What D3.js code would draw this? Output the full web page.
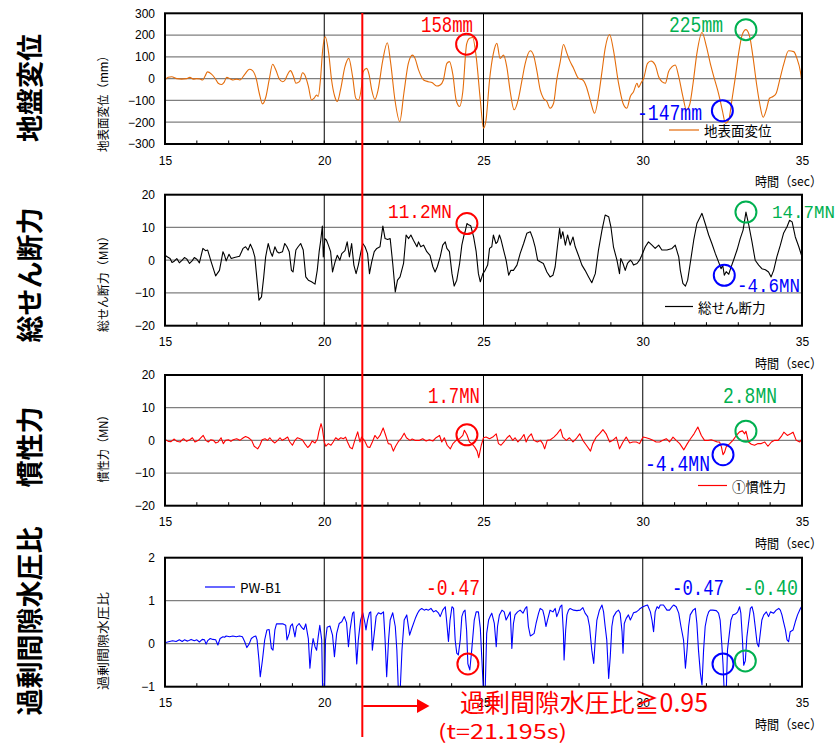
<!DOCTYPE html>
<html>
<head>
<meta charset="utf-8">
<script src="https://cdn.jsdelivr.net/npm/d3@7"></script>
<style>
  html, body { margin: 0; padding: 0; background: #fff; }
  svg { display: block; }
</style>
</head>
<body>
<svg id="chart" width="839" height="747"></svg>
<script>
// ---------- axis ticks ----------
const timeTicks  = [15, 20, 25, 30, 35];
const dispTicks  = [-300, -200, -100, 0, 100, 200, 300];
const shearTicks = [-20, -10, 0, 10, 20];
const inertTicks = [-20, -10, 0, 10, 20];
const ratioTicks = [-1, 0, 1, 2];

// ---------- time histories [time (s), value] ----------
// ground surface displacement (mm)
const groundDisp = [[15.00,-6],[15.10,6],[15.21,9],[15.37,0],[15.52,-2],[15.68,0],[15.78,6],[15.89,-2],[15.99,0],[16.10,-2],[16.18,-6],[16.26,12],[16.33,31],[16.46,21],[16.57,2],[16.67,-21],[16.78,-27],[16.85,-18],[16.94,6],[17.04,0],[17.14,-6],[17.25,-2],[17.35,-6],[17.51,21],[17.65,43],[17.75,37],[17.86,2],[17.96,-67],[18.06,-116],[18.17,-82],[18.27,-6],[18.38,66],[18.48,40],[18.59,-2],[18.69,-14],[18.77,-6],[18.84,17],[18.94,37],[19.03,12],[19.11,-21],[19.22,-14],[19.32,27],[19.39,17],[19.50,-34],[19.60,-98],[19.68,-90],[19.76,-75],[19.81,-82],[19.88,-6],[19.95,131],[20.03,192],[20.14,116],[20.23,-6],[20.33,-82],[20.41,-105],[20.51,-52],[20.65,55],[20.77,93],[20.89,9],[20.99,-90],[21.07,-98],[21.17,-37],[21.22,32],[21.33,47],[21.41,17],[21.49,-52],[21.59,-95],[21.69,-52],[21.83,78],[21.98,165],[22.08,78],[22.22,-98],[22.37,-197],[22.50,-67],[22.64,70],[22.77,108],[22.85,93],[22.96,40],[23.12,-6],[23.27,-14],[23.38,-18],[23.53,-34],[23.64,-29],[23.74,-6],[23.85,70],[23.93,78],[24.04,17],[24.14,-98],[24.25,-128],[24.35,-60],[24.47,158],[24.56,185],[24.66,189],[24.77,101],[24.90,-98],[25.00,-227],[25.08,-189],[25.19,-6],[25.31,116],[25.42,162],[25.52,93],[25.63,108],[25.73,55],[25.84,-60],[25.96,-143],[26.10,-90],[26.20,-14],[26.31,70],[26.47,128],[26.57,108],[26.68,32],[26.78,-52],[26.88,-90],[26.99,-105],[27.09,-136],[27.20,-113],[27.30,-6],[27.41,78],[27.51,157],[27.62,116],[27.70,85],[27.83,47],[27.98,2],[28.12,-6],[28.23,-37],[28.35,-98],[28.49,-159],[28.61,-82],[28.72,32],[28.82,139],[28.96,203],[29.08,131],[29.24,-21],[29.38,-113],[29.50,-136],[29.61,-82],[29.71,-60],[29.82,-21],[29.87,-40],[29.94,-21],[30.03,2],[30.15,70],[30.26,81],[30.39,63],[30.50,9],[30.60,-14],[30.71,-21],[30.81,32],[30.92,55],[31.02,63],[31.13,9],[31.26,-82],[31.37,-143],[31.47,-121],[31.58,-21],[31.70,116],[31.86,212],[32.00,147],[32.12,70],[32.23,9],[32.35,-52],[32.43,-100],[32.50,-147],[32.60,-205],[32.70,-189],[32.80,-98],[32.91,9],[33.01,116],[33.12,200],[33.24,225],[33.36,192],[33.46,101],[33.57,-21],[33.67,-113],[33.78,-177],[33.88,-143],[33.98,-90],[34.09,-82],[34.19,-67],[34.30,-6],[34.42,63],[34.58,128],[34.74,124],[34.84,93],[34.95,32],[35.00,-20]];

// total shear force (MN)
const totalShear = [[15.00,1.5],[15.08,1.0],[15.16,0.5],[15.22,-0.7],[15.29,-0.3],[15.37,0.5],[15.45,-0.8],[15.54,0],[15.61,0.8],[15.68,0.4],[15.77,-1.0],[15.85,-0.2],[15.92,0.8],[16.00,0.3],[16.08,-0.8],[16.19,3.6],[16.27,2.9],[16.34,3.1],[16.45,-0.5],[16.59,-4.8],[16.71,-3.1],[16.82,2.6],[16.87,1.5],[16.92,-0.2],[17.01,1.8],[17.08,0.5],[17.18,0.8],[17.34,1.2],[17.45,3.6],[17.53,4.1],[17.61,3.1],[17.68,4.9],[17.76,3.1],[17.82,1.0],[17.89,-6.1],[17.95,-12.2],[18.03,-11.2],[18.10,-5.1],[18.16,1.0],[18.24,5.1],[18.31,2.6],[18.37,1.2],[18.45,4.1],[18.52,2.6],[18.58,2.2],[18.69,2.6],[18.76,5.1],[18.83,4.1],[18.90,2.6],[18.97,-3.1],[19.02,-3.6],[19.11,3.1],[19.18,4.1],[19.26,5.1],[19.34,3.1],[19.42,-5.1],[19.50,-6.1],[19.60,-6.6],[19.71,-7.3],[19.78,-3.1],[19.84,2.6],[19.89,6.1],[19.94,10.4],[19.97,1.0],[20.02,6.6],[20.07,6.1],[20.13,4.6],[20.20,2.6],[20.26,-3.6],[20.34,-0.5],[20.41,1.5],[20.49,0],[20.55,2.0],[20.65,2.9],[20.72,5.6],[20.79,1.0],[20.86,5.1],[20.93,-1.5],[21.00,-4.1],[21.07,-1.5],[21.14,2.0],[21.21,5.1],[21.28,4.1],[21.36,2.0],[21.42,-4.1],[21.49,-0.5],[21.57,2.6],[21.65,3.6],[21.75,4.1],[21.84,10.4],[21.91,6.6],[21.99,6.3],[22.07,6.6],[22.15,-1.0],[22.23,-9.7],[22.30,-6.1],[22.38,-5.1],[22.49,-1.0],[22.57,7.7],[22.65,6.6],[22.72,7.7],[22.80,6.1],[22.91,4.1],[22.96,5.6],[23.03,4.1],[23.12,4.6],[23.22,2.6],[23.32,1.5],[23.41,-2.0],[23.48,-3.6],[23.55,-2.0],[23.64,1.0],[23.72,4.6],[23.80,5.6],[23.85,3.6],[23.93,2.6],[24.01,-4.1],[24.08,-7.9],[24.16,-6.1],[24.25,-1.0],[24.32,4.6],[24.39,7.7],[24.43,9.0],[24.48,11.2],[24.53,10.8],[24.60,10.5],[24.69,7.1],[24.77,2.6],[24.84,-4.1],[24.90,-6.6],[24.98,-4.1],[25.05,-3.1],[25.13,-1.5],[25.19,3.6],[25.26,4.1],[25.31,7.7],[25.39,5.1],[25.44,5.6],[25.50,7.7],[25.55,6.3],[25.63,3.1],[25.71,0],[25.79,-4.6],[25.86,-3.1],[25.94,-3.1],[26.05,-1.5],[26.15,2.0],[26.26,5.1],[26.36,8.2],[26.47,8.7],[26.55,6.6],[26.62,4.1],[26.70,0],[26.78,-0.5],[26.88,-1.0],[26.99,-3.6],[27.09,-5.1],[27.18,-4.6],[27.25,-2.0],[27.32,4.1],[27.39,9.7],[27.43,6.6],[27.49,8.7],[27.57,4.6],[27.64,7.7],[27.72,4.6],[27.81,7.1],[27.88,4.1],[27.98,1.5],[28.09,-1.5],[28.19,-3.1],[28.30,-5.1],[28.40,-6.9],[28.51,-4.1],[28.61,3.1],[28.72,9.2],[28.82,13.8],[28.93,13.3],[29.00,10.2],[29.08,4.1],[29.19,0],[29.27,-4.1],[29.31,0.5],[29.38,-1.0],[29.45,-3.1],[29.52,-1.0],[29.61,0],[29.66,-0.5],[29.71,-1.5],[29.82,-1.0],[29.90,0],[29.97,1.5],[30.08,4.1],[30.18,5.6],[30.29,4.6],[30.39,3.6],[30.50,4.6],[30.60,3.1],[30.76,3.1],[30.92,3.6],[31.02,4.6],[31.13,1.0],[31.18,-3.1],[31.26,-7.1],[31.34,-7.9],[31.41,-6.1],[31.49,-1.0],[31.60,6.1],[31.70,11.2],[31.86,14.3],[31.96,11.2],[32.07,7.7],[32.17,5.1],[32.28,2.0],[32.38,-0.5],[32.46,-2.6],[32.51,-1.5],[32.56,-4.6],[32.62,-3.5],[32.70,-4.3],[32.77,-2.2],[32.85,0],[32.96,3.1],[33.06,6.6],[33.15,9.2],[33.24,14.7],[33.32,11.2],[33.43,5.6],[33.53,0],[33.64,-1.5],[33.74,-2.6],[33.85,-2.9],[33.95,-3.6],[34.03,-5.1],[34.11,-3.1],[34.21,1.0],[34.32,4.6],[34.42,8.2],[34.53,10.2],[34.61,12.2],[34.69,11.7],[34.79,7.1],[34.90,4.1],[35.00,1.0]];

// inertial force (MN)
const inertiaForce = [[15.00,0.3],[15.10,-0.3],[15.19,-0.4],[15.29,0.4],[15.37,-0.3],[15.47,-0.5],[15.58,0.5],[15.68,-0.3],[15.78,0.2],[15.86,0.8],[15.94,-0.5],[16.05,0],[16.13,0.8],[16.20,1.5],[16.28,0],[16.36,-0.5],[16.44,0.2],[16.52,0],[16.59,-0.8],[16.67,-0.5],[16.76,0.8],[16.83,-1.0],[16.90,0],[16.99,0.2],[17.07,-0.3],[17.14,0.2],[17.25,0.5],[17.35,0],[17.46,0.8],[17.53,1.2],[17.62,0.8],[17.72,0],[17.80,-1.8],[17.91,-2.6],[17.98,-1.5],[18.05,0.2],[18.14,0.5],[18.22,0],[18.29,0.8],[18.37,-0.2],[18.45,-0.8],[18.54,0],[18.61,0.8],[18.68,0],[18.77,0.5],[18.85,1.0],[18.92,-0.5],[19.00,-1.5],[19.08,0],[19.16,0.8],[19.24,0.5],[19.31,0.2],[19.39,-1.0],[19.48,-2.2],[19.55,-1.5],[19.62,-0.2],[19.71,-0.8],[19.79,0.5],[19.83,2.6],[19.90,5.1],[19.94,3.6],[20.00,-0.5],[20.05,-1.8],[20.13,-1.0],[20.21,-1.5],[20.28,-0.5],[20.36,0.8],[20.44,0.2],[20.52,0.8],[20.60,0.5],[20.67,1.0],[20.73,-0.5],[20.81,-2.2],[20.88,-2.6],[20.96,0],[21.05,2.6],[21.12,-0.5],[21.17,1.0],[21.26,0],[21.36,-2.0],[21.43,-2.2],[21.51,-0.5],[21.59,1.5],[21.67,0.5],[21.75,1.5],[21.85,3.8],[21.92,1.8],[22.01,-1.0],[22.09,-1.2],[22.17,-3.3],[22.24,-1.8],[22.32,-0.5],[22.41,0.5],[22.51,2.2],[22.58,0.8],[22.69,0],[22.76,0.4],[22.85,0],[22.99,0],[23.09,0.5],[23.20,-0.2],[23.30,0.2],[23.41,-0.2],[23.51,0.8],[23.62,1.5],[23.69,-0.5],[23.77,0.8],[23.86,-1.5],[23.96,-2.6],[24.04,-1.0],[24.14,0],[24.25,0.5],[24.35,1.5],[24.40,3.1],[24.48,1.7],[24.56,-0.5],[24.63,-1.0],[24.72,-2.0],[24.80,-3.3],[24.85,-5.3],[24.93,-1.5],[25.00,0.8],[25.08,1.0],[25.19,0.5],[25.29,1.0],[25.40,2.0],[25.47,-1.0],[25.55,-1.5],[25.64,-0.5],[25.74,0.8],[25.82,1.5],[25.92,0],[25.99,0.8],[26.08,-0.5],[26.18,0.5],[26.27,1.8],[26.34,-0.5],[26.41,1.0],[26.50,2.0],[26.58,0],[26.69,-0.5],[26.79,0],[26.86,-1.0],[26.92,-2.6],[27.00,0],[27.10,0.2],[27.21,1.0],[27.31,2.0],[27.42,3.4],[27.49,1.0],[27.60,0],[27.70,0.8],[27.81,-0.5],[27.91,0.5],[28.02,2.0],[28.12,0],[28.23,-1.5],[28.36,-3.3],[28.43,-1.0],[28.54,1.0],[28.64,2.0],[28.75,3.3],[28.85,2.0],[28.96,-0.5],[29.06,0],[29.17,1.0],[29.27,-2.6],[29.38,-0.5],[29.48,1.0],[29.59,-0.8],[29.69,-0.5],[29.80,-0.5],[29.90,-1.0],[30.01,1.0],[30.11,0.8],[30.21,0.5],[30.32,0],[30.42,-0.5],[30.53,-0.5],[30.63,0],[30.74,0.5],[30.84,-0.5],[30.95,1.0],[31.05,0],[31.16,-1.0],[31.29,-2.9],[31.40,-1.0],[31.50,0.5],[31.61,2.0],[31.73,4.1],[31.84,1.5],[31.94,0],[32.05,0],[32.15,0.2],[32.26,-0.2],[32.34,-0.5],[32.41,-0.5],[32.47,-2.0],[32.52,-4.4],[32.57,-3.6],[32.62,-2.0],[32.73,-1.0],[32.83,0],[32.94,1.5],[33.04,2.6],[33.13,2.9],[33.20,2.0],[33.24,2.8],[33.32,-0.5],[33.41,-1.2],[33.51,-1.5],[33.62,-1.0],[33.72,-1.0],[33.83,-0.5],[33.93,-1.8],[34.04,-0.5],[34.14,0],[34.25,0],[34.35,1.2],[34.43,2.5],[34.54,1.5],[34.64,2.0],[34.72,2.5],[34.82,0],[34.93,-0.5],[35.00,0.5]];

// excess pore water pressure ratio, PW-B1 (spikes below -1 run off the axis)
const poreRatio = [[15.00,0.02],[15.14,0.05],[15.24,0.07],[15.35,0.05],[15.45,0.09],[15.54,0.05],[15.61,0.09],[15.71,0.06],[15.82,0.10],[15.92,0.07],[16.00,0.09],[16.08,0.04],[16.17,0.10],[16.24,0.09],[16.29,-0.01],[16.34,0.07],[16.42,0.12],[16.50,0.10],[16.59,0.09],[16.66,-0.03],[16.73,0.12],[16.82,0.16],[16.87,0.15],[16.92,0.18],[17.03,0.16],[17.13,0.18],[17.24,0.16],[17.34,0.18],[17.43,0.16],[17.50,0.05],[17.57,-0.09],[17.64,-0.01],[17.71,0.12],[17.78,0.16],[17.85,0.18],[17.89,0.09],[17.95,-0.38],[17.99,-0.77],[18.06,-0.38],[18.13,0.09],[18.20,0.32],[18.27,0.33],[18.34,-0.11],[18.39,-0.15],[18.45,0.32],[18.50,0.46],[18.60,0.46],[18.71,0.46],[18.79,0.43],[18.83,0.09],[18.90,0.24],[18.94,0.41],[19.00,0.46],[19.08,0.16],[19.13,0.40],[19.21,0.47],[19.29,0.38],[19.36,0.33],[19.42,0.46],[19.50,0.12],[19.55,-0.57],[19.60,-0.15],[19.65,0.12],[19.71,-0.07],[19.76,-0.15],[19.81,0.16],[19.86,0.43],[19.92,0.09],[19.95,-1.15],[20.01,-1.15],[20.04,0.09],[20.09,0.38],[20.18,0.41],[20.26,0.20],[20.32,-0.30],[20.39,0.24],[20.47,0.47],[20.55,0.51],[20.63,0.63],[20.70,0.49],[20.76,-0.07],[20.81,0.32],[20.89,0.71],[20.93,0.74],[20.98,0.09],[21.02,-0.47],[21.07,0.09],[21.14,0.55],[21.21,0.72],[21.28,0.47],[21.31,0.32],[21.36,0.55],[21.42,0.72],[21.46,0.74],[21.51,-0.15],[21.57,0.24],[21.63,0.64],[21.70,0.72],[21.78,0.69],[21.86,0.74],[21.91,0.09],[21.96,-0.77],[22.02,0.09],[22.07,0.55],[22.15,0.72],[22.23,0.40],[22.28,-0.15],[22.33,-1.15],[22.38,-1.15],[22.44,-0.15],[22.51,0.55],[22.59,0.67],[22.68,0.20],[22.75,0.36],[22.86,0.59],[22.93,0.71],[22.99,0.78],[23.06,0.82],[23.14,0.78],[23.20,0.80],[23.27,0.78],[23.35,0.82],[23.43,0.74],[23.51,0.77],[23.59,0.71],[23.64,0.63],[23.72,0.78],[23.80,0.86],[23.85,0.47],[23.90,0.05],[23.95,0.55],[24.01,0.86],[24.06,0.82],[24.11,0.09],[24.16,-0.22],[24.21,-0.26],[24.27,0.09],[24.32,0.63],[24.37,0.74],[24.42,0.78],[24.47,0.30],[24.51,-0.47],[24.57,-0.61],[24.63,-0.15],[24.71,0.55],[24.77,0.74],[24.84,0.74],[24.90,0.36],[24.95,-0.38],[25.00,-1.15],[25.05,-1.15],[25.10,0.24],[25.16,0.55],[25.21,0.64],[25.26,0.71],[25.34,0.47],[25.40,-0.07],[25.44,0.40],[25.50,0.67],[25.58,0.78],[25.65,0.74],[25.71,0.55],[25.79,0.67],[25.84,0.74],[25.89,-0.11],[25.94,0.47],[25.99,0.67],[26.07,0.74],[26.15,0.78],[26.24,0.71],[26.31,0.82],[26.36,0.86],[26.41,0.40],[26.47,0.18],[26.52,0.20],[26.59,0.24],[26.65,0.47],[26.73,0.71],[26.78,0.82],[26.86,0.78],[26.91,0.63],[26.96,0.40],[27.01,0.55],[27.09,0.78],[27.18,0.74],[27.25,0.82],[27.30,0.63],[27.36,0.74],[27.41,0.86],[27.46,0.90],[27.51,0.24],[27.53,-0.38],[27.58,0.32],[27.62,0.67],[27.67,0.78],[27.72,0.82],[27.83,0.78],[27.93,0.77],[28.04,0.78],[28.12,0.84],[28.19,0.71],[28.27,0.63],[28.33,0.40],[28.40,-0.15],[28.46,-0.46],[28.51,0.09],[28.56,0.55],[28.64,0.78],[28.72,0.90],[28.77,0.74],[28.82,0.40],[28.87,0.09],[28.93,-0.81],[28.98,-0.30],[29.03,0.40],[29.08,0.63],[29.17,0.74],[29.24,0.78],[29.29,0.71],[29.35,0.28],[29.38,-0.22],[29.42,0.47],[29.48,0.59],[29.55,0.67],[29.61,0.55],[29.66,0.63],[29.71,0.72],[29.80,0.74],[29.87,0.78],[29.92,0.82],[30.01,0.86],[30.08,0.88],[30.15,0.90],[30.24,0.74],[30.29,0.55],[30.34,0.28],[30.39,0.74],[30.45,0.86],[30.50,0.82],[30.55,0.90],[30.65,0.90],[30.76,0.78],[30.84,0.78],[30.92,0.86],[30.97,0.90],[31.05,0.86],[31.13,0.71],[31.20,0.40],[31.28,0.09],[31.34,-0.57],[31.39,-0.15],[31.44,0.40],[31.49,0.67],[31.58,0.78],[31.65,0.82],[31.70,0.47],[31.75,-0.15],[31.81,-0.69],[31.86,-0.96],[31.91,-0.15],[31.96,0.40],[32.02,0.63],[32.07,0.74],[32.12,0.78],[32.20,0.78],[32.31,0.77],[32.38,0.71],[32.43,0.55],[32.48,0.01],[32.52,-0.47],[32.56,-1.15],[32.62,-1.15],[32.66,-0.15],[32.72,0.24],[32.77,0.55],[32.83,0.67],[32.91,0.69],[32.98,0.74],[33.04,0.86],[33.08,0.71],[33.13,0.09],[33.17,-0.50],[33.22,-0.40],[33.27,0.16],[33.32,0.47],[33.38,0.82],[33.43,0.86],[33.48,0.71],[33.53,0.40],[33.59,0.01],[33.64,-0.07],[33.69,0.24],[33.74,0.55],[33.80,0.67],[33.88,0.74],[33.95,0.63],[34.01,0.74],[34.11,0.71],[34.19,0.78],[34.27,0.82],[34.32,0.78],[34.37,0.67],[34.42,0.51],[34.48,0.32],[34.53,0.09],[34.58,0.05],[34.63,0.28],[34.72,0.32],[34.79,0.51],[34.86,0.67],[34.95,0.82],[35.00,0.88]];

// ---------- marked instants [time, value, label, tone] ----------
const dispNotes  = [[24.47, 158, "158mm", "red"], [33.24, 225, "225mm", "green"], [32.50, -147, "-147mm", "blue"]];
const shearNotes = [[24.48, 11.2, "11.2MN", "red"], [33.24, 14.7, "14.7MN", "green"], [32.56, -4.6, "-4.6MN", "blue"]];
const inertNotes = [[24.48, 1.7, "1.7MN", "red"], [33.24, 2.8, "2.8MN", "green"], [32.52, -4.4, "-4.4MN", "blue"]];
const ratioNotes = [[24.51, -0.47, "-0.47", "red"], [32.52, -0.47, "-0.47", "blue"], [33.22, -0.40, "-0.40", "green"]];

// liquefaction onset
const onsetTime = 21.195;
const onsetText = "過剰間隙水圧比≧0.95";
const onsetTimeText = "(t=21.195s)";

// ---------- styling & layout ----------
const FONT_JP   = '"Noto Sans CJK JP","Noto Sans",sans-serif';
const FONT_NUM  = '"Liberation Sans",Arial,sans-serif';
const FONT_MONO = '"Liberation Mono","DejaVu Sans Mono",monospace';
const toneColor = { red: "#FF0000", green: "#00B050", blue: "#0000FF" };

const svg = d3.select("#chart");
const x = d3.scaleLinear().domain([15, 35]).range([165, 802]);

// label placement per note: [left x, baseline y, width, font size]
const panels = [
  { series: groundDisp, ticks: dispTicks, top: 13.3, bottom: 144, stroke: "#E46C0A", smooth: true,
    title: "地盤変位", titleY: 88, yTitle: "地表面変位（mm）", yTitleY: 101, yTitleLen: 102,
    legend: { x1: 669, x2: 699, y: 130, text: "地表面変位" },
    notes: dispNotes, labelPos: [[421, 32, 52, 22], [669, 32, 54, 22], [637, 120, 65, 22]] },
  { series: totalShear, ticks: shearTicks, top: 194.7, bottom: 325.7, stroke: "#000000", smooth: false,
    title: "総せん断力", titleY: 275, yTitle: "総せん断力（MN）", yTitleY: 281, yTitleLen: 102,
    legend: { x1: 665, x2: 693, y: 306.5, text: "総せん断力" },
    notes: shearNotes, labelPos: [[388, 218, 64, 21], [772, 218, 63, 18.5], [737, 292, 63, 21]] },
  { series: inertiaForce, ticks: inertTicks, top: 375, bottom: 505.7, stroke: "#FF0000", smooth: false,
    title: "慣性力", titleY: 447, yTitle: "慣性力（MN）", yTitleY: 446, yTitleLen: 73,
    legend: { x1: 698, x2: 727, y: 485.5, text: "①慣性力" },
    notes: inertNotes, labelPos: [[428, 403, 52, 22], [723, 403, 54, 22], [645, 471, 65, 22]] },
  { series: poreRatio, ticks: ratioTicks, top: 557.7, bottom: 686.7, stroke: "#0000FF", smooth: false,
    title: "過剰間隙水圧比", titleY: 621, yTitle: "過剰間隙水圧比", yTitleY: 641, yTitleLen: 98,
    legend: { x1: 205, x2: 235, y: 587, text: "PW-B1" },
    notes: ratioNotes, labelPos: [[426, 595, 54, 22], [672, 595, 52, 22], [743, 595, 55, 22]] }
];

const defs = svg.append("defs");

panels.forEach((p, i) => {
  const y = d3.scaleLinear().domain(d3.extent(p.ticks)).range([p.bottom, p.top]);
  const g = svg.append("g");

  defs.append("clipPath").attr("id", "plot-clip-" + i)
    .append("rect")
    .attr("x", x.range()[0]).attr("y", p.top)
    .attr("width", x.range()[1] - x.range()[0]).attr("height", p.bottom - p.top);

  // horizontal grid
  g.selectAll(".hgrid").data(p.ticks.slice(1, -1)).join("line")
    .attr("x1", x(15)).attr("x2", x(35))
    .attr("y1", d => y(d)).attr("y2", d => y(d))
    .attr("stroke", "#7f7f7f").attr("stroke-width", 1.3);

  // vertical grid
  g.selectAll(".vgrid").data(timeTicks.slice(1, -1)).join("line")
    .attr("x1", d => x(d)).attr("x2", d => x(d))
    .attr("y1", p.top).attr("y2", p.bottom)
    .attr("stroke", "#000").attr("stroke-width", 1);

  // minor ticks every second
  g.selectAll(".minor").data(d3.range(16, 35)).join("line")
    .attr("x1", d => x(d)).attr("x2", d => x(d))
    .attr("y1", p.bottom).attr("y2", p.bottom - 3.5)
    .attr("stroke", "#000").attr("stroke-width", 1);

  // series line
  const line = d3.line()
    .x(d => x(d[0])).y(d => y(d[1]))
    .curve(p.smooth ? d3.curveMonotoneX : d3.curveLinear);
  g.append("path").datum(p.series)
    .attr("clip-path", "url(#plot-clip-" + i + ")")
    .attr("fill", "none").attr("stroke", p.stroke)
    .attr("stroke-width", 1.1).attr("stroke-linejoin", "round")
    .attr("d", line);

  // frame
  g.append("rect")
    .attr("x", x(15)).attr("y", p.top)
    .attr("width", x(35) - x(15)).attr("height", p.bottom - p.top)
    .attr("fill", "none").attr("stroke", "#000").attr("stroke-width", 2);

  // axes
  const yAxis = g.append("g").attr("transform", `translate(${x(15)},0)`)
    .call(d3.axisLeft(y).tickValues(p.ticks).tickSize(0).tickPadding(10).tickFormat(d3.format("d")));
  const xAxis = g.append("g").attr("transform", `translate(0,${p.bottom})`)
    .call(d3.axisBottom(x).tickValues(timeTicks).tickSize(0).tickPadding(12).tickFormat(d3.format("d")));
  [yAxis, xAxis].forEach(a => {
    a.select(".domain").remove();
    a.selectAll("text").attr("font-family", FONT_NUM).attr("font-size", 12).attr("fill", "#000");
  });

  g.append("text")
    .attr("x", 822).attr("y", p.bottom + 42)
    .attr("text-anchor", "end")
    .attr("font-family", FONT_JP).attr("font-size", 13)
    .attr("textLength", 67).attr("lengthAdjust", "spacingAndGlyphs")
    .text("時間（sec）");

  // panel title and axis title
  g.append("text")
    .attr("transform", `translate(28,${p.titleY}) rotate(-90)`)
    .attr("text-anchor", "middle").attr("dominant-baseline", "central")
    .attr("font-family", FONT_JP).attr("font-size", 27).attr("font-weight", "bold")
    .text(p.title);
  g.append("text")
    .attr("transform", `translate(102,${p.yTitleY}) rotate(-90)`)
    .attr("text-anchor", "middle").attr("dominant-baseline", "central")
    .attr("font-family", FONT_JP).attr("font-size", 12)
    .attr("textLength", p.yTitleLen).attr("lengthAdjust", "spacingAndGlyphs")
    .text(p.yTitle);

  // legend
  g.append("line")
    .attr("x1", p.legend.x1).attr("x2", p.legend.x2)
    .attr("y1", p.legend.y).attr("y2", p.legend.y)
    .attr("stroke", p.stroke).attr("stroke-width", 1.2);
  g.append("text")
    .attr("x", p.legend.x2 + 5).attr("y", p.legend.y)
    .attr("dominant-baseline", "central")
    .attr("font-family", FONT_JP).attr("font-size", 13.5)
    .text(p.legend.text);

  // marked instants: circle on the curve and value label
  p.notes.forEach((n, k) => {
    const [t, v, label, tone] = n;
    g.append("circle")
      .attr("cx", x(t)).attr("cy", y(v)).attr("r", 10.5)
      .attr("fill", "none").attr("stroke", toneColor[tone]).attr("stroke-width", 2);
    const [lx, ly, lw, fs] = p.labelPos[k];
    g.append("text")
      .attr("x", lx).attr("y", ly)
      .attr("font-family", FONT_MONO).attr("font-size", fs)
      .attr("textLength", lw).attr("lengthAdjust", "spacingAndGlyphs")
      .attr("fill", toneColor[tone])
      .text(label);
  });
});

// onset marker across all panels
const xOnset = x(onsetTime);
svg.append("line")
  .attr("x1", xOnset).attr("x2", xOnset)
  .attr("y1", 13).attr("y2", 737)
  .attr("stroke", "#FF0000").attr("stroke-width", 2);
svg.append("line")
  .attr("x1", xOnset + 1).attr("x2", 418)
  .attr("y1", 706).attr("y2", 706)
  .attr("stroke", "#FF0000").attr("stroke-width", 2);
svg.append("path")
  .attr("d", "M417,699 L429.5,706 L417,713 Z")
  .attr("fill", "#FF0000");
svg.append("text")
  .attr("x", 460).attr("y", 712)
  .attr("font-family", FONT_JP).attr("font-size", 25)
  .attr("textLength", 248).attr("lengthAdjust", "spacingAndGlyphs")
  .attr("fill", "#FF0000")
  .text(onsetText);
svg.append("text")
  .attr("x", 438).attr("y", 739)
  .attr("font-family", FONT_JP).attr("font-size", 20)
  .attr("textLength", 129).attr("lengthAdjust", "spacingAndGlyphs")
  .attr("fill", "#FF0000")
  .text(onsetTimeText);
</script>
</body>
</html>
